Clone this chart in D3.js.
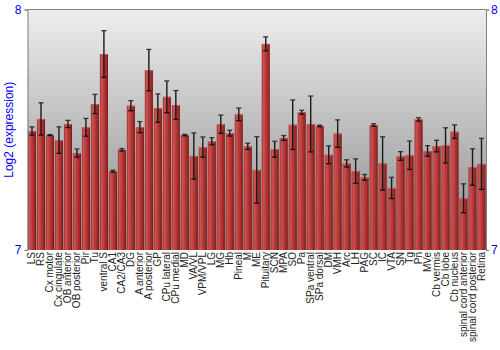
<!DOCTYPE html>
<html><head><meta charset="utf-8">
<script src="https://cdn.jsdelivr.net/npm/d3@7"></script>
<style>html,body{margin:0;padding:0;background:#fff}svg{display:block}</style>
</head><body>
<script>
const categories = ["LS","RS","Cx motor","Cx cingulate","OB anterior","OB posterior","Pir","Tu","ventral S","CA1","CA2/CA3","DG","A anterior","A posterior","GP","CPu lateral","CPu medial","MD","VA/VL","VPM/VPL","LG","MG","Hb","Pineal","M","ME","Pituitary","SCN","MPA","SO","Pa","SPa ventral","SPa dorsal","DM","VMH","Arc","LH","PAG","SC","IC","VTA","SN","Tg","Pn","MVe","Cb vermis","Cb lobe","Cb nucleus","spinal cord anterior","spinal cord posterior","Retina"];
const values = [7.495,7.545,7.478,7.457,7.524,7.403,7.510,7.607,7.815,7.328,7.417,7.600,7.511,7.748,7.590,7.637,7.603,7.478,7.391,7.428,7.452,7.523,7.486,7.564,7.431,7.333,7.857,7.419,7.466,7.521,7.573,7.524,7.516,7.396,7.484,7.360,7.328,7.302,7.520,7.360,7.258,7.391,7.394,7.543,7.412,7.432,7.435,7.492,7.215,7.345,7.358];
const errors = [0.017,0.067,0.002,0.055,0.015,0.017,0.037,0.040,0.097,0.004,0.005,0.021,0.023,0.086,0.059,0.066,0.060,0.003,0.096,0.042,0.015,0.038,0.012,0.026,0.013,0.138,0.029,0.033,0.010,0.103,0.008,0.116,0.003,0.037,0.057,0.015,0.051,0.012,0.005,0.111,0.044,0.018,0.059,0.007,0.022,0.024,0.073,0.028,0.060,0.076,0.106];
const yTicks = [7, 8];
const yTitle = "Log2 (expression)";

const W = 500, H = 350;
const m = {left: 27.5, right: 14, top: 9.5, bottom: 100};
const svg = d3.select("body").append("svg").attr("width", W).attr("height", H);
const defs = svg.append("defs");
const bg = defs.append("linearGradient").attr("id","bg").attr("x1",0).attr("y1",0).attr("x2",0).attr("y2",1);
bg.append("stop").attr("offset","0%").attr("stop-color","#eeeeee");
bg.append("stop").attr("offset","100%").attr("stop-color","#8a8a8a");
const bar = defs.append("linearGradient").attr("id","bar").attr("x1",0).attr("y1",0).attr("x2",1).attr("y2",0);
[["0%","#9a2a2a"],["18%","#cc5454"],["50%","#b93b3b"],["85%","#9a2525"],["100%","#6c1414"]].forEach(s=>bar.append("stop").attr("offset",s[0]).attr("stop-color",s[1]));

const x0 = m.left, x1 = W - m.right, y0 = H - m.bottom, y1 = m.top;
const x = d3.scaleBand().domain(categories).range([x0, x1]).paddingInner(0.1).paddingOuter(0.05);
const y = d3.scaleLinear().domain([7, 8]).range([y0, y1]);

svg.append("rect").attr("x", x0).attr("y", y1).attr("width", x1 - x0).attr("height", y0 - y1).attr("fill", "url(#bg)");

const g = svg.append("g");
g.selectAll("rect.b").data(categories).join("rect").attr("class","b")
  .attr("x", d => x(d)).attr("width", x.bandwidth())
  .attr("y", (d,i) => y(values[i])).attr("height", (d,i) => y(7) - y(values[i]))
  .attr("fill", "url(#bar)");
g.selectAll("line.t").data(categories).join("line").attr("class","t")
  .attr("x1", d => x(d)+0.5).attr("x2", d => x(d)+x.bandwidth()-0.5)
  .attr("y1", (d,i) => y(values[i])+0.5).attr("y2", (d,i) => y(values[i])+0.5)
  .attr("stroke", "#d06060").attr("stroke-width", 1);

const eb = g.selectAll("g.e").data(categories).join("g").attr("class","e");
const cx = d => x(d) + x.bandwidth()/2;
eb.append("line").attr("x1", cx).attr("x2", cx)
  .attr("y1", (d,i) => y(values[i]+errors[i])).attr("y2", (d,i) => y(values[i]-errors[i]))
  .attr("stroke", "#1a1a1a").attr("stroke-width", 1.4);
eb.append("line").attr("x1", d => cx(d)-2.5).attr("x2", d => cx(d)+2.5)
  .attr("y1", (d,i) => y(values[i]+errors[i])).attr("y2", (d,i) => y(values[i]+errors[i]))
  .attr("stroke", "#333").attr("stroke-width", 1.3);
eb.append("line").attr("x1", d => cx(d)-2.5).attr("x2", d => cx(d)+2.5)
  .attr("y1", (d,i) => y(values[i]-errors[i])).attr("y2", (d,i) => y(values[i]-errors[i]))
  .attr("stroke", "#111").attr("stroke-width", 1.3);

// top border
svg.append("line").attr("x1", x0).attr("x2", x1).attr("y1", y1).attr("y2", y1).attr("stroke", "#808080");

const yl = d3.axisLeft(y).tickValues(yTicks).tickFormat(d3.format("d")).tickSize(3).tickPadding(3);
const yr = d3.axisRight(y).tickValues(yTicks).tickFormat(d3.format("d")).tickSize(3).tickPadding(2);
const styleAxis = (sel) => {
  sel.select(".domain").attr("stroke", "#808080");
  sel.selectAll(".tick line").attr("stroke", "#808080");
  sel.selectAll(".tick text").attr("fill", "#0000ff").attr("font-size", 12).attr("font-family", "Liberation Sans, Arial, sans-serif");
};
svg.append("g").attr("transform", `translate(${x0},0)`).call(yl).call(styleAxis);
svg.append("g").attr("transform", `translate(${x1},0)`).call(yr).call(styleAxis);

svg.append("text").attr("transform", `translate(13,${(y0+y1)/2}) rotate(-90)`)
  .attr("text-anchor","middle").attr("fill","#0000ff").attr("font-size",12)
  .attr("font-family","Liberation Sans, Arial, sans-serif").text(yTitle);

svg.selectAll("text.xl").data(categories).join("text").attr("class","xl")
  .attr("transform", d => `translate(${cx(d)+3.5},${y0+2}) rotate(-90)`)
  .attr("text-anchor","end").attr("fill","#222").attr("font-size",10)
  .attr("font-family","Liberation Sans, Arial, sans-serif").text(d => d);
</script>
</body></html>
